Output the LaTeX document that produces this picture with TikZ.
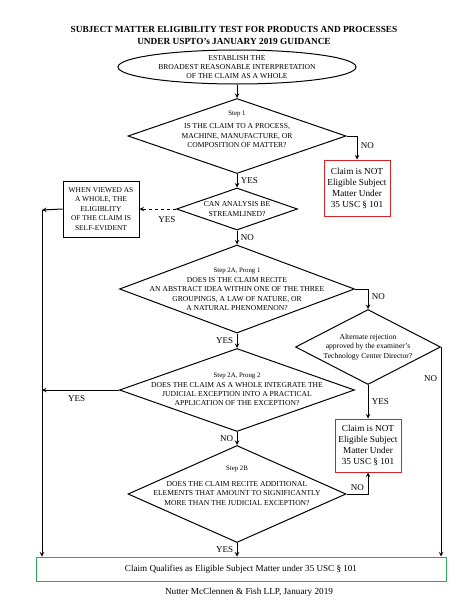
\documentclass[tikz,border=0pt]{standalone}
\usepackage{fontspec}
\setmainfont{Liberation Serif}
\usetikzlibrary{shapes.geometric}

\definecolor{notred}{RGB}{215,35,40}
\definecolor{okgreen}{RGB}{40,170,90}

\newcommand{\stepfont}{\fontsize{6.8}{9}\selectfont}

\tikzset{
  decision/.style={draw, diamond, line width=1pt, inner sep=0pt},
  qtext/.style={align=center, font=\fontsize{7.6}{9.4}\selectfont},
  notbox/.style={draw=notred, line width=1pt, rectangle, align=center,
    font=\fontsize{9.2}{11}\selectfont},
  answer/.style={font=\fontsize{9}{10}\selectfont},
  flow/.style={->, line width=1pt}
}

\begin{document}
\begin{tikzpicture}[>=stealth, x=1pt, y=-1pt]
    \useasboundingbox (0,0) rectangle (474,613);

        % Title
        \node[align=center, font=\bfseries\fontsize{9.3}{12}\selectfont] (title) at (234,35)
          {SUBJECT MATTER ELIGIBILITY TEST FOR PRODUCTS AND PROCESSES\\
           UNDER USPTO's JANUARY 2019 GUIDANCE};

        % Define the start node (ellipse)
        \node[draw, ellipse, line width=1pt, minimum width=238pt, minimum height=34pt] (E) at (237,67) {};
        \node[qtext] (Et) at (E) {ESTABLISH THE\\ BROADEST REASONABLE INTERPRETATION\\ OF THE CLAIM AS A WHOLE};

        % Define the decisions in the middle column
        \node[decision, minimum width=218pt, minimum height=75pt] (D1) at (237,136) {};
        \node[qtext] (D1t) at (237,129.5) {{\stepfont Step 1}\\[4pt] IS THE CLAIM TO A PROCESS,\\ MACHINE, MANUFACTURE, OR\\ COMPOSITION OF MATTER?};

        \node[decision, minimum width=121pt, minimum height=42pt] (D2) at (237,209) {};
        \node[qtext] (D2t) at (D2) {CAN ANALYSIS BE\\ STREAMLINED?};

        \node[decision, minimum width=235pt, minimum height=88pt] (D3) at (237,289) {};
        \node[qtext] (D3t) at (237,289.5) {{\stepfont Step 2A, Prong 1}\\ DOES IS THE CLAIM RECITE\\ AN ABSTRACT IDEA WITHIN ONE OF THE THREE\\ GROUPINGS, A LAW OF NATURE, OR\\ A NATURAL PHENOMENON?};

        \node[decision, minimum width=235pt, minimum height=83pt] (D4) at (237,390) {};
        \node[qtext] (D4t) at (237,389.5) {{\stepfont Step 2A, Prong 2}\\ DOES THE CLAIM AS A WHOLE INTEGRATE THE\\ JUDICIAL EXCEPTION INTO A PRACTICAL\\ APPLICATION OF THE EXCEPTION?};

        \node[decision, minimum width=218pt, minimum height=97pt] (D5) at (237,494) {};
        \node[qtext] (D5t) at (237,485.5) {{\stepfont Step 2B}\\[7pt] DOES THE CLAIM RECITE ADDITIONAL\\ ELEMENTS THAT AMOUNT TO SIGNIFICANTLY\\ MORE THAN THE JUDICIAL EXCEPTION?};

        % Define the nodes on the right
        \node[notbox, minimum width=66pt, minimum height=56pt] (R1) at (357,188) {Claim is NOT\\ Eligible Subject\\ Matter Under\\ 35 USC \S\ 101};

        \node[decision, minimum width=145pt, minimum height=75pt] (A) at (368,347) {};
        \node[qtext] (At) at (A) {Alternate rejection\\ approved by the examiner's\\ Technology Center Director?};

        \node[notbox, minimum width=66pt, minimum height=53pt] (R2) at (368,445.5) {Claim is NOT\\ Eligible Subject\\ Matter Under\\ 35 USC \S\ 101};

        % Define the node on the left
        \node[draw, line width=1pt, rectangle, minimum width=76pt, minimum height=56pt, align=center,
          font=\fontsize{7.4}{9.4}\selectfont] (S) at (101,209)
          {WHEN VIEWED AS\\ A WHOLE, THE\\ ELIGIBLITY\\ OF THE CLAIM IS\\ SELF-EVIDENT};
        \coordinate (L1) at (42,210);

        % Define the final node
        \node[draw=okgreen, line width=1pt, rectangle, minimum width=410pt, minimum height=24pt,
          font=\fontsize{9.1}{10}\selectfont] (G) at (241,569)
          {Claim Qualifies as Eligible Subject Matter under 35 USC \S\ 101};
        \node[font=\fontsize{9.2}{10}\selectfont] (foot) at (249,592) {Nutter McClennen \& Fish LLP, January 2019};

        % Draw arrows down the middle column
        \draw[flow] (E) -- (D1.north);
        \draw[flow] (D1.south) -- (D2.north) node[midway, right, answer] {YES};
        \draw[flow] (D2.south) -- (D3.north) node[midway, right, answer] {NO};
        \draw[flow] (D3.south) -- (D4.north) node[midway, left, answer] {YES};
        \draw[flow] (D4.south) -- (D5.north) node[midway, left, answer] {NO};
        \draw[flow] (D5.south) -- (D5.south |- G.north) node[midway, left, answer] {YES};

        % Draw arrows to the right column
        \draw[flow] (D1.east) -| (R1.north) node[pos=0.7, right, answer] {NO};
        \draw[flow] (D3.east) -| (A.north) node[pos=0.7, right, answer] {NO};
        \draw[flow] (A.south) -- (R2.north) node[midway, right, answer] {YES};
        \draw[flow] (A.east) -- (A.east |- G.north) node[pos=0.15, left, answer] {NO};
        \draw[flow] (D5.east) -| (R2.south) node[pos=0.25, above, answer] {NO};

        % Draw arrows to the left column
        \draw[flow, dashed] (D2.west) -- (S.east) node[pos=0.25, below=4pt, answer] {YES};
        \draw[flow] (S.west) -- (L1);
        \draw[flow] (L1) -- (L1 |- G.north);
        \draw[flow] (D4.west) -- (L1 |- D4.west) node[pos=0.55, below=2pt, answer] {YES};

    \end{tikzpicture}
\end{document}
